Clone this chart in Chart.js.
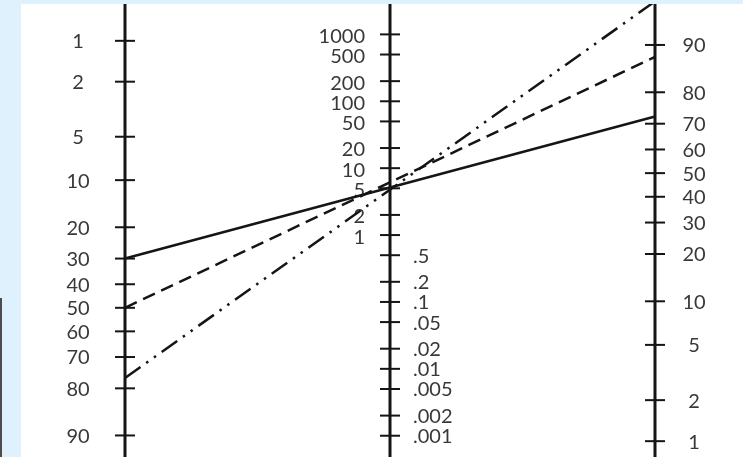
<!DOCTYPE html>
<html>
<head>
<meta charset="utf-8">
<script src="https://cdn.jsdelivr.net/npm/chart.js@4"></script>
<style>
  html, body { margin: 0; padding: 0; }
  body { width: 743px; height: 457px; background: #dff1fc; position: relative; overflow: hidden; }
  #edge { position: absolute; left: 0; top: 298px; width: 2px; height: 159px; background: #4d4d4d; }
  #wrap { position: absolute; left: 21px; top: 4px; width: 722px; height: 453px; background: #fff; }
</style>
</head>
<body>
<div id="edge"></div>
<div id="wrap"><canvas id="nomogram"></canvas></div>
<script>
// tick values of the three nomogram axes
const pretestTicks = [1, 2, 5, 10, 20, 30, 40, 50, 60, 70, 80, 90];
const ratioTicks = [1000, 500, 200, 100, 50, 20, 10, 5, 2, 1, 0.5, 0.2, 0.1, 0.05, 0.02, 0.01, 0.005, 0.002, 0.001];
const ratioLabels = ['1000', '500', '200', '100', '50', '20', '10', '5', '2', '1', '.5', '.2', '.1', '.05', '.02', '.01', '.005', '.002', '.001'];
const posttestTicks = [90, 80, 70, 60, 50, 40, 30, 20, 10, 5, 2, 1];

// the three example lines: pretest % -> posttest %
const lineNames = ['solid', 'dashed', 'dash-dot'];
const pretest = [30, 50, 77];
const posttest = [72.5, 88, 95];
const lineDash = [[], [13, 7], [19, 7, 2.5, 7, 2.5, 7]];

// Fagan nomogram: all three axes share one vertical unit (half natural log)
const logit = p => Math.log(p / (100 - p));
const leftLevel = p => -logit(p) - 1.252;
const midLevel = r => Math.log(r) / 2;
const rightLevel = p => 1.004 * logit(p) + 1.066;

const ink = '#151515';
const textColor = '#383838';

const axesPlugin = {
  id: 'nomogramAxes',
  beforeDatasetsDraw(chart) {
    const { ctx, chartArea, scales: { x, y } } = chart;
    const axes = [
      { at: 0, ticks: pretestTicks, labels: pretestTicks.map(String), level: leftLevel },
      { at: 1, ticks: ratioTicks, labels: ratioLabels, level: midLevel },
      { at: 2, ticks: posttestTicks, labels: posttestTicks.map(String), level: rightLevel }
    ];
    ctx.save();
    ctx.font = '20px Lato';
    ctx.textBaseline = 'middle';
    axes.forEach(axis => {
      const px = Math.round(x.getPixelForValue(axis.at));
      ctx.strokeStyle = ink;
      ctx.lineWidth = 3;
      ctx.beginPath();
      ctx.moveTo(px, chartArea.top);
      ctx.lineTo(px, chartArea.bottom);
      ctx.stroke();
      axis.ticks.forEach((v, i) => {
        const py = y.getPixelForValue(axis.level(v));
        ctx.strokeStyle = ink;
        ctx.lineWidth = 2;
        ctx.beginPath();
        ctx.moveTo(px - 10, py);
        ctx.lineTo(px + 10, py);
        ctx.stroke();
        ctx.fillStyle = textColor;
        if (axis.at === 0) {
          ctx.textAlign = 'center';
          ctx.fillText(axis.labels[i], px - 47, py + 1);
        } else if (axis.at === 2) {
          ctx.textAlign = 'center';
          ctx.fillText(axis.labels[i], px + 39, py + 1);
        } else if (v >= 1) {
          ctx.textAlign = 'right';
          ctx.fillText(axis.labels[i], px - 25, py + 2);
        } else {
          ctx.textAlign = 'left';
          ctx.fillText(axis.labels[i], px + 23, py + 1);
        }
      });
    });
    ctx.restore();
  }
};

new Chart(document.getElementById('nomogram'), {
  type: 'scatter',
  data: {
    datasets: lineNames.map((name, i) => ({
      label: name,
      data: [
        { x: 0, y: leftLevel(pretest[i]) },
        { x: 2, y: rightLevel(posttest[i]) }
      ],
      showLine: true,
      borderColor: ink,
      borderWidth: 2.5,
      borderDash: lineDash[i],
      pointRadius: 0
    }))
  },
  options: {
    responsive: true,
    maintainAspectRatio: false,
    animation: false,
    layout: { padding: 0 },
    plugins: { legend: { display: false }, tooltip: { enabled: false } },
    scales: {
      x: { type: 'linear', min: -0.3925, max: 2.332, display: false },
      y: { type: 'linear', min: -3.82, max: 3.977, display: false }
    }
  },
  plugins: [axesPlugin]
});
</script>
</body>
</html>
